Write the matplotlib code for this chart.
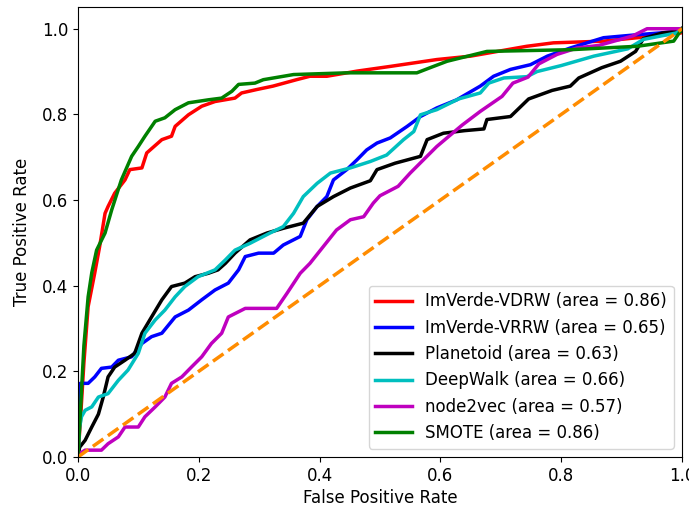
import matplotlib
matplotlib.use("Agg")
import matplotlib.pyplot as plt

# ROC points (fpr, tpr)
vdrw_fpr = [0, 0.004, 0.01, 0.017, 0.028, 0.036, 0.045, 0.05, 0.061, 0.078, 0.086, 0.106, 0.114,
            0.139, 0.155, 0.161, 0.183, 0.205, 0.227, 0.26, 0.271, 0.296, 0.323, 0.362, 0.384, 0.412,
            0.462, 0.517, 0.594, 0.65, 0.743, 0.787, 0.87, 0.926, 0.998, 1.0]
vdrw_tpr = [0, 0.08, 0.22, 0.351, 0.43, 0.491, 0.569, 0.585, 0.616, 0.647, 0.671, 0.675, 0.71,
            0.741, 0.749, 0.772, 0.799, 0.819, 0.83, 0.838, 0.85, 0.858, 0.866, 0.881, 0.889, 0.889,
            0.901, 0.912, 0.928, 0.936, 0.959, 0.967, 0.971, 0.979, 0.99, 1.0]

vrrw_fpr = [0, 0.002, 0.004, 0.017, 0.028, 0.039, 0.056, 0.067, 0.089, 0.106, 0.122, 0.139, 0.161,
            0.183, 0.205, 0.227, 0.249, 0.266, 0.277, 0.299, 0.324, 0.34, 0.368, 0.379, 0.396, 0.412,
            0.423, 0.445, 0.462, 0.478, 0.495, 0.517, 0.545, 0.567, 0.594, 0.627, 0.666, 0.688, 0.716,
            0.749, 0.777, 0.815, 0.87, 0.926, 0.998, 1.0]
vrrw_tpr = [0, 0.08, 0.172, 0.172, 0.187, 0.207, 0.21, 0.226, 0.234, 0.265, 0.281, 0.289, 0.327,
            0.343, 0.367, 0.39, 0.406, 0.437, 0.468, 0.476, 0.476, 0.495, 0.515, 0.554, 0.585, 0.608,
            0.647, 0.671, 0.694, 0.717, 0.733, 0.745, 0.772, 0.795, 0.815, 0.834, 0.866, 0.889, 0.905,
            0.916, 0.936, 0.955, 0.979, 0.986, 0.994, 1.0]

planetoid_fpr = [0, 0.003, 0.012, 0.023, 0.034, 0.042, 0.05, 0.061, 0.078, 0.094, 0.106, 0.122, 0.139,
                 0.155, 0.177, 0.194, 0.216, 0.232, 0.244, 0.26, 0.285, 0.313, 0.34, 0.373, 0.396, 0.423,
                 0.451, 0.484, 0.495, 0.525, 0.567, 0.578, 0.605, 0.64, 0.672, 0.677, 0.716, 0.746,
                 0.785, 0.815, 0.829, 0.867, 0.898, 0.923, 0.936, 0.967, 1.0, 1.0]
planetoid_tpr = [0, 0.023, 0.039, 0.07, 0.1, 0.14, 0.187, 0.21, 0.226, 0.242, 0.289, 0.327, 0.367,
                 0.398, 0.406, 0.421, 0.429, 0.437, 0.452, 0.476, 0.507, 0.523, 0.534, 0.546, 0.585, 0.608,
                 0.628, 0.645, 0.671, 0.686, 0.702, 0.741, 0.756, 0.762, 0.766, 0.788, 0.795, 0.836,
                 0.856, 0.866, 0.885, 0.909, 0.924, 0.947, 0.977, 0.99, 0.996, 1.0]

deepwalk_fpr = [0, 0.003, 0.006, 0.012, 0.023, 0.034, 0.05, 0.067, 0.083, 0.1, 0.111, 0.128, 0.144,
                0.161, 0.177, 0.199, 0.227, 0.244, 0.26, 0.285, 0.318, 0.34, 0.357, 0.373, 0.396, 0.418,
                0.451, 0.484, 0.511, 0.539, 0.556, 0.567, 0.594, 0.63, 0.666, 0.68, 0.705, 0.743, 0.76,
                0.8, 0.854, 0.91, 0.936, 0.99, 1.0]
deepwalk_tpr = [0, 0.07, 0.094, 0.109, 0.117, 0.14, 0.148, 0.179, 0.203, 0.242, 0.289, 0.32, 0.343,
                0.374, 0.398, 0.421, 0.437, 0.46, 0.483, 0.499, 0.523, 0.538, 0.569, 0.608, 0.639, 0.663,
                0.675, 0.69, 0.705, 0.741, 0.76, 0.799, 0.811, 0.836, 0.85, 0.873, 0.885, 0.888, 0.9,
                0.914, 0.936, 0.953, 0.975, 0.99, 1.0]

n2v_fpr = [0, 0.003, 0.012, 0.039, 0.05, 0.067, 0.078, 0.1, 0.111, 0.128, 0.144, 0.155, 0.172, 0.188,
           0.205, 0.221, 0.238, 0.249, 0.277, 0.329, 0.346, 0.368, 0.384, 0.406, 0.428, 0.451, 0.473,
           0.489, 0.5, 0.53, 0.55, 0.572, 0.594, 0.62, 0.636, 0.666, 0.702, 0.72, 0.745, 0.763, 0.793,
           0.826, 0.862, 0.918, 0.942, 1.0]
n2v_tpr = [0, 0.008, 0.016, 0.016, 0.031, 0.047, 0.07, 0.07, 0.094, 0.117, 0.14, 0.172, 0.187, 0.21,
           0.234, 0.265, 0.289, 0.327, 0.347, 0.347, 0.382, 0.429, 0.452, 0.491, 0.53, 0.554, 0.561,
           0.593, 0.61, 0.632, 0.663, 0.694, 0.725, 0.756, 0.775, 0.807, 0.842, 0.873, 0.887, 0.918, 0.94,
           0.955, 0.961, 0.983, 1.0, 1.0]

smote_fpr = [0, 0.004, 0.01, 0.017, 0.023, 0.031, 0.045, 0.056, 0.072, 0.089, 0.10, 0.111, 0.128, 0.144,
             0.161, 0.183, 0.216, 0.238, 0.255, 0.266, 0.293, 0.307, 0.357, 0.445, 0.561, 0.583, 0.611,
             0.677, 0.815, 0.926, 0.986, 1.0]
smote_tpr = [0, 0.1, 0.26, 0.374, 0.43, 0.483, 0.523, 0.577, 0.647, 0.702, 0.725, 0.749, 0.784, 0.792,
             0.811, 0.827, 0.834, 0.838, 0.854, 0.87, 0.873, 0.881, 0.893, 0.897, 0.897, 0.909, 0.924,
             0.947, 0.951, 0.959, 0.971, 1.0]

names = ["ImVerde-VDRW", "ImVerde-VRRW", "Planetoid", "DeepWalk", "node2vec", "SMOTE"]
areas = [0.86, 0.65, 0.63, 0.66, 0.57, 0.86]
colors = ["r", "b", "k", "c", "m", "g"]
curves = [(vdrw_fpr, vdrw_tpr), (vrrw_fpr, vrrw_tpr), (planetoid_fpr, planetoid_tpr),
          (deepwalk_fpr, deepwalk_tpr), (n2v_fpr, n2v_tpr), (smote_fpr, smote_tpr)]

plt.rcParams["font.family"] = "DejaVu Sans"
plt.rcParams["font.size"] = 12

fig = plt.figure(figsize=(6.89, 5.07), dpi=100)
ax = fig.add_axes([0.113, 0.0986, 0.877, 0.887])

for (f, t), name, a, c in zip(curves, names, areas, colors):
    ax.plot(f, t, color=c, lw=2.5, label="%s (area = %0.2f)" % (name, a))
ax.plot([0, 1], [0, 1], color="darkorange", lw=2.5, linestyle="--")

ax.set_xlim(0.0, 1.0)
ax.set_ylim(0.0, 1.05)
ax.set_xlabel("False Positive Rate", labelpad=3)
ax.set_ylabel("True Positive Rate", labelpad=8)
ax.legend(loc="lower right", fontsize=12, handlelength=2.2)

fig.savefig("out.png", dpi=100)
